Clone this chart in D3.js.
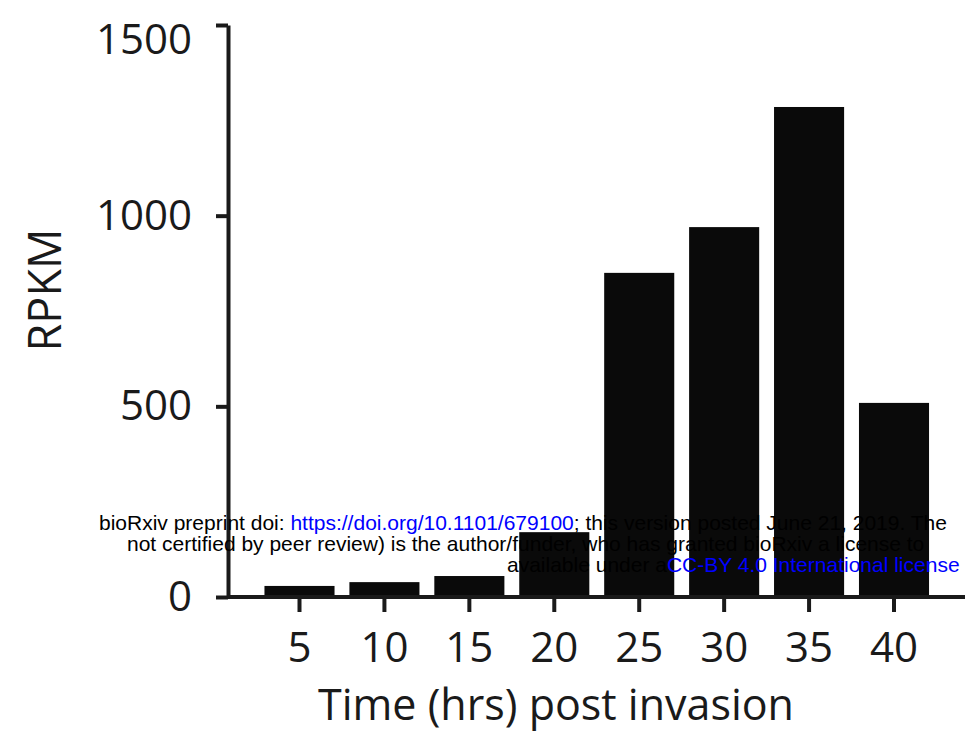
<!DOCTYPE html>
<html>
<head>
<meta charset="utf-8">
<script src="https://cdn.jsdelivr.net/npm/d3@7"></script>
<style>
  body { margin: 0; background: #fff; }
  svg { display: block; }
  .axis text { font-family: "Open Sans", sans-serif; fill: #1a1a1a; }
  .wm { font-family: "Liberation Sans", Arial, sans-serif; font-size: 21px; }
</style>
</head>
<body>
<div id="chart-area"></div>
<script>
// data
var hours = ["5", "10", "15", "20", "25", "30", "35", "40"];
var rpkm = [29, 39, 55, 170, 850, 970, 1285, 509];
var yTicks = [0, 500, 1000, 1500];

var margin = { left: 228, right: 0, top: 25, bottom: 143 };
var width = 965 - margin.left - margin.right,
    height = 740 - margin.top - margin.bottom;

var svg = d3.select("#chart-area")
    .append("svg")
        .attr("width", 965)
        .attr("height", 740);

var g = svg.append("g")
    .attr("transform", "translate(" + margin.left + ", " + margin.top + ")");

// X Scale
var x = d3.scaleBand()
    .domain(hours)
    .range([21.6, 715.9])
    .padding(0.175);

// Y Scale
var y = d3.scaleLinear()
    .domain([0, 1500])
    .range([height, 0]);

// Bars
g.selectAll("rect")
    .data(rpkm)
    .enter()
    .append("rect")
        .attr("x", function(d, i){ return x(hours[i]); })
        .attr("y", function(d){ return y(d); })
        .attr("width", x.bandwidth())
        .attr("height", function(d){ return height - y(d); })
        .attr("fill", "#0a0a0a");

// X Axis
var xAxisCall = d3.axisBottom(x)
    .tickSize(15)
    .tickPadding(20);
var xAxisGroup = g.append("g")
    .attr("class", "x axis")
    .attr("transform", "translate(0," + height + ")")
    .call(xAxisCall);
xAxisGroup.select(".domain").remove();
xAxisGroup.selectAll("line").attr("stroke", "#1a1a1a").attr("stroke-width", 4);
xAxisGroup.selectAll("text").attr("font-size", "42px");
xAxisGroup.append("line")
    .attr("x1", 0)
    .attr("x2", width)
    .attr("stroke", "#1a1a1a")
    .attr("stroke-width", 4);

// Y Axis
var yAxisCall = d3.axisLeft(y)
    .tickValues(yTicks)
    .tickFormat(d3.format("d"))
    .tickSize(12)
    .tickSizeOuter(0)
    .tickPadding(24);
var yAxisGroup = g.append("g")
    .attr("class", "y axis")
    .call(yAxisCall);
yAxisGroup.select(".domain").attr("stroke", "#1a1a1a").attr("stroke-width", 4);
yAxisGroup.selectAll("line").attr("stroke", "#1a1a1a").attr("stroke-width", 4);
yAxisGroup.selectAll("text")
    .attr("font-size", "42px")
    .attr("y", function(d){ return d === 1500 ? 15 : 0; });

// X Label
g.append("text")
    .attr("x", 328)
    .attr("y", height + 123)
    .attr("text-anchor", "middle")
    .attr("font-family", "Open Sans, sans-serif")
    .attr("font-size", "43px")
    .attr("fill", "#1a1a1a")
    .text("Time (hrs) post invasion");

// Y Label
g.append("text")
    .attr("transform", "rotate(-90)")
    .attr("x", -265)
    .attr("y", -167)
    .attr("text-anchor", "middle")
    .attr("font-family", "Open Sans, sans-serif")
    .attr("font-size", "45px")
    .attr("fill", "#1a1a1a")
    .text("RPKM");

// bioRxiv stamp (only the part that shows inside the frame)
var wm = svg.append("g").attr("class", "wm");
var l1 = wm.append("text").attr("x", 99).attr("y", 530);
l1.append("tspan").attr("fill", "#000").text("bioRxiv preprint doi: ");
l1.append("tspan").attr("fill", "#0000ff").text("https://doi.org/10.1101/679100");
l1.append("tspan").attr("fill", "#000").text("; this version posted June 21, 2019. The");
wm.append("text").attr("x", 127).attr("y", 551).attr("fill", "#000")
    .text("not certified by peer review) is the author/funder, who has granted bioRxiv a license to");
var l3 = wm.append("text").attr("x", 507).attr("y", 572);
l3.append("tspan").attr("fill", "#000").text("available under a");
l3.append("tspan").attr("fill", "#0000ff").text("CC-BY 4.0 International license");
</script>
</body>
</html>
